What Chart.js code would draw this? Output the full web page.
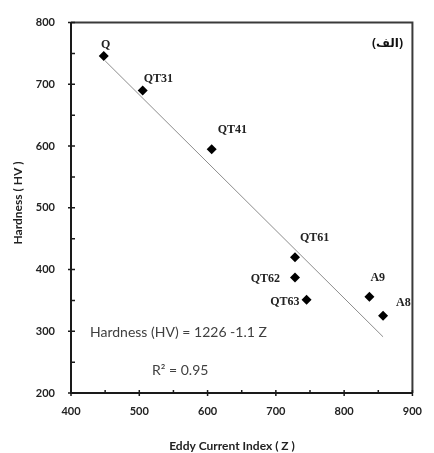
<!DOCTYPE html>
<html><head><meta charset="utf-8">
<script src="https://cdn.jsdelivr.net/npm/chart.js@4"></script>
<style>html,body{margin:0;padding:0;background:#fff;} #wrap{width:434px;height:453px;}</style>
</head><body><div id="wrap"><canvas id="c" width="434" height="453"></canvas></div>
<script>
const sampleNames = ['Q','QT31','QT41','QT61','QT62','QT63','A9','A8'];
const eddyIndex = [448,505,606,728,728,745,837,857];
const hardness = [746,690,595,420,387,351,356,325];
const fitZ = [450,857];
const fitHV = [738,291];
const xTicks = [400,500,600,700,800,900];
const yTicks = [200,300,400,500,600,700,800];
const equationText = 'Hardness (HV) = 1226 -1.1 Z';
const r2Text = 'R² = 0.95';
const panelLabel = '(الف)';
const xTitle = 'Eddy Current Index ( Z )';
const yTitle = 'Hardness ( HV )';

// label placement (style): dx, dy, align
const labelPlace = [[2,-11,'center'],[1,-12,'left'],[6,-19,'left'],[5,-19,'left'],[-15,1,'right'],[-7,2,'right'],[1,-19,'left'],[13,-13,'left']];

const points = eddyIndex.map((x,i)=>({x:x,y:hardness[i]}));
const fitPts = fitZ.map((x,i)=>({x:x,y:fitHV[i]}));

const deco = {
  id:'deco',
  afterDraw(chart){
    const {ctx, chartArea:a, scales:{x,y}} = chart;
    ctx.save();
    // frame
    ctx.strokeStyle='#3a3a3a'; ctx.lineWidth=2;
    ctx.beginPath(); ctx.moveTo(a.left,a.top); ctx.lineTo(a.right,a.top); ctx.lineTo(a.right,a.bottom); ctx.stroke();
    ctx.strokeStyle='#1a1a1a';
    ctx.beginPath(); ctx.moveTo(a.left,a.top); ctx.lineTo(a.left,a.bottom); ctx.lineTo(a.right,a.bottom); ctx.stroke();
    // ticks
    ctx.lineWidth=1.5;
    ctx.beginPath();
    yTicks.forEach((v,i)=>{
      const p=y.getPixelForValue(v);
      ctx.moveTo(a.left-3,p); ctx.lineTo(a.left+4,p);
      if(i<yTicks.length-1){const m=y.getPixelForValue((v+yTicks[i+1])/2); ctx.moveTo(a.left,m); ctx.lineTo(a.left+4,m);}
    });
    xTicks.forEach((v,i)=>{
      const p=x.getPixelForValue(v);
      ctx.moveTo(p,a.bottom-3); ctx.lineTo(p,a.bottom+3);
      if(i<xTicks.length-1){const m=x.getPixelForValue((v+xTicks[i+1])/2); ctx.moveTo(m,a.bottom-3); ctx.lineTo(m,a.bottom);}
    });
    ctx.stroke();
    // point labels
    ctx.fillStyle='#222';
    ctx.font='bold 12px "Liberation Serif", serif';
    ctx.textBaseline='middle';
    sampleNames.forEach((n,i)=>{
      const px=x.getPixelForValue(eddyIndex[i]), py=y.getPixelForValue(hardness[i]);
      const [dx,dy,al]=labelPlace[i];
      ctx.textAlign=al; ctx.fillText(n,px+dx,py+dy);
    });
    // equation
    ctx.fillStyle='#404040';
    ctx.font='14px Lato, sans-serif';
    ctx.textAlign='left';
    ctx.fillText(equationText,90,332);
    ctx.fillText(r2Text,152,370);
    // panel label
    ctx.fillStyle='#111';
    ctx.font='bold 12px "Noto Sans", "DejaVu Sans", sans-serif';
    ctx.textAlign='right';
    ctx.fillText(panelLabel,403,44);
    // titles
    ctx.fillStyle='#222';
    ctx.font='bold 12px Lato, sans-serif';
    ctx.textAlign='center';
    ctx.fillText(xTitle,232,446);
    ctx.translate(18,203);
    ctx.rotate(-Math.PI/2);
    ctx.fillText(yTitle,0,0);
    ctx.restore();
  }
};

new Chart(document.getElementById('c'),{
  type:'scatter',
  data:{datasets:[
    {data:fitPts, showLine:true, borderColor:'#8c8c8c', borderWidth:1, pointRadius:0, order:2},
    {data:points, pointStyle:'rectRot', pointRadius:5, backgroundColor:'#000', borderColor:'#000', borderWidth:0, order:1}
  ]},
  options:{
    responsive:false, devicePixelRatio:1, animation:false,
    layout:{padding:{top:19,right:11,left:0,bottom:0}},
    plugins:{legend:{display:false},tooltip:{enabled:false}},
    scales:{
      x:{type:'linear',min:400,max:900,
        afterBuildTicks(s){s.ticks=xTicks.map(v=>({value:v}));},
        afterFit(s){s.height=60;},
        grid:{display:false,drawTicks:false}, border:{display:false},
        ticks:{padding:12,color:'#222',font:{family:'Lato',weight:'bold',size:11},maxRotation:0}},
      y:{type:'linear',min:200,max:800,
        afterBuildTicks(s){s.ticks=yTicks.map(v=>({value:v}));},
        afterFit(s){s.width=71;},
        grid:{display:false,drawTicks:false}, border:{display:false},
        ticks:{padding:16,color:'#222',font:{family:'Lato',weight:'bold',size:11}}}
    }
  },
  plugins:[deco]
});
</script></body></html>
